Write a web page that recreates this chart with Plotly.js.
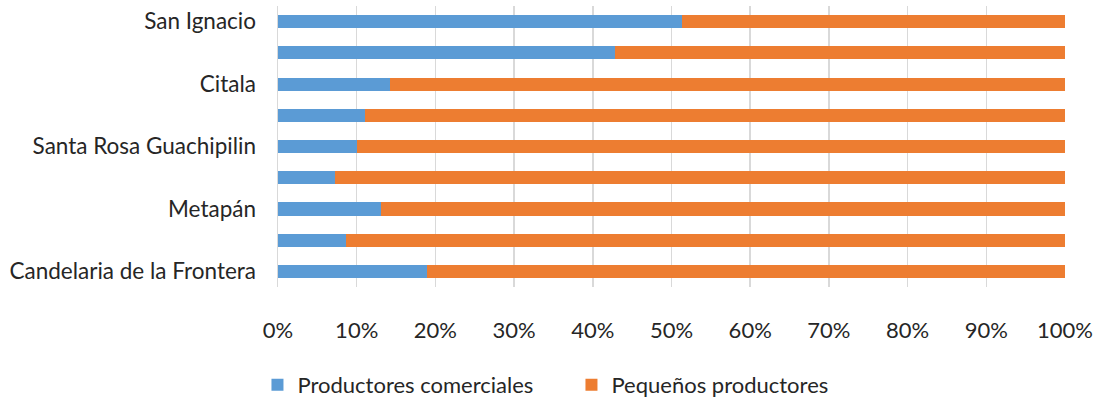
<!DOCTYPE html>
<html>
<head>
<meta charset="utf-8">
<script src="https://cdn.plot.ly/plotly-3.0.1.min.js"></script>
<style>
  html, body { margin: 0; padding: 0; background: #fff; }
  #chart { width: 1105px; height: 399px; }
</style>
</head>
<body>
<div id="chart"></div>
<script>
// Municipalities, top to bottom (only every other name is printed on the axis)
const municipios = [
  "San Ignacio", "", "Citala", "", "Santa Rosa Guachipilin",
  "", "Metapán", "", "Candelaria de la Frontera"
];
// Share of producers per municipality (%)
const comerciales = [51.3, 42.8, 14.2, 11.1, 10.1, 7.3, 13.1, 8.7, 18.9];
const pequenos    = [48.7, 57.2, 85.8, 88.9, 89.9, 92.7, 86.9, 91.3, 81.1];
const xTicks = [0, 10, 20, 30, 40, 50, 60, 70, 80, 90, 100];

const pos = municipios.map((_, i) => i);
const font = "Lato, 'Noto Sans', sans-serif";
const textColor = "#262626";

const traces = [
  {
    type: "bar", orientation: "h", name: "Productores comerciales",
    y: pos, x: comerciales, marker: { color: "#5b9bd5" },
    hoverinfo: "x+name"
  },
  {
    type: "bar", orientation: "h", name: "Pequeños productores",
    y: pos, x: pequenos, marker: { color: "#ed7d31" },
    hoverinfo: "x+name"
  }
];

const layout = {
  width: 1105, height: 399,
  margin: { l: 278, r: 40, t: 6, b: 112, autoexpand: false },
  paper_bgcolor: "#fff", plot_bgcolor: "#fff",
  barmode: "stack", bargap: 0.58,
  font: { family: font, size: 22, color: textColor },
  xaxis: {
    range: [0, 100], tickvals: xTicks,
    ticktext: xTicks.map(v => v + "%"),
    showgrid: true, gridcolor: "#d9d9d9", gridwidth: 1.5,
    zeroline: false, showline: false, ticks: "",
    ticklabelstandoff: 28,
    tickfont: { family: font, size: 22, color: textColor },
    fixedrange: true
  },
  yaxis: {
    range: [8.5, -0.5], tickvals: pos, ticktext: municipios,
    showgrid: false, zeroline: false,
    showline: true, linecolor: "#d9d9d9", linewidth: 1.5,
    ticks: "", ticklabelstandoff: 16,
    tickfont: { family: font, size: 22.5, color: textColor },
    fixedrange: true
  },
  showlegend: true,
  legend: {
    orientation: "h", x: 0.233, xref: "container", xanchor: "left",
    y: 0.035, yref: "container", yanchor: "middle",
    font: { family: font, size: 22, color: textColor },
    itemwidth: 30, entrywidth: 269, traceorder: "normal"
  }
};

Plotly.newPlot("chart", traces, layout, { displayModeBar: false, staticPlot: true });
</script>
</body>
</html>
